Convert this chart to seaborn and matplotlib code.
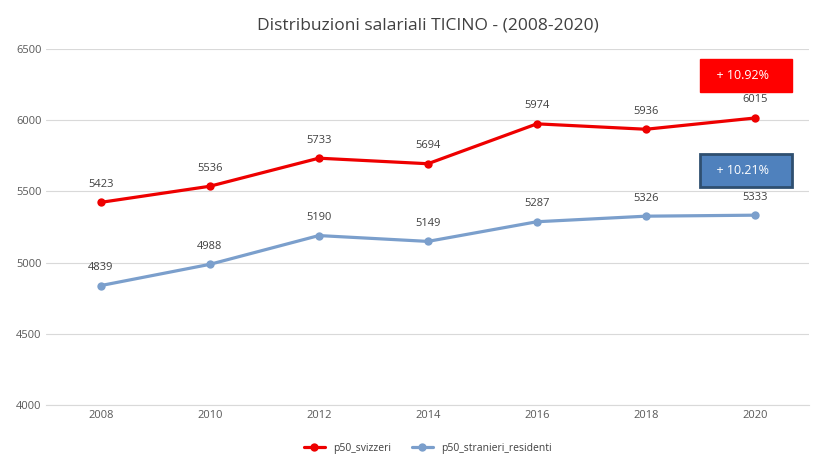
import matplotlib
matplotlib.use('Agg')
import matplotlib.pyplot as plt
import seaborn as sns
import pandas as pd

years = ['2008', '2010', '2012', '2014', '2016', '2018', '2020']
svizzeri = [5423, 5536, 5733, 5694, 5974, 5936, 6015]
stranieri = [4839, 4988, 5190, 5149, 5287, 5326, 5333]

sns.set_style('white')
plt.rcParams['font.family'] = ['Open Sans', 'DejaVu Sans']

df = pd.DataFrame({'anno': years * 2,
                   'valore': svizzeri + stranieri,
                   'serie': ['p50_svizzeri'] * 7 + ['p50_stranieri_residenti'] * 7})

fig = plt.figure(figsize=(8.26, 4.70), dpi=100)
ax = fig.add_axes([0.056, 0.138, 0.924, 0.758])
pal = {'p50_svizzeri': '#ee0000', 'p50_stranieri_residenti': '#7b9fcc'}
sns.lineplot(data=df, x='anno', y='valore', hue='serie', palette=pal, marker='o',
             markersize=6, markeredgewidth=0, linewidth=2.3, ax=ax, sort=False)

for s, vals in [('p50_svizzeri', svizzeri), ('p50_stranieri_residenti', stranieri)]:
    for i, v in enumerate(vals):
        ax.annotate(str(v), (i, v), xytext=(0, 9), textcoords='offset points',
                    ha='center', va='bottom', fontsize=8, color='#404040')

ax.set_xlim(-0.5, 6.5)
ax.set_ylim(4000, 6500)
ax.set_yticks(range(4000, 6501, 500))
ax.yaxis.grid(True, color='#d9d9d9', linewidth=0.8)
for sp in ['top', 'right', 'left']:
    ax.spines[sp].set_visible(False)
ax.spines['bottom'].set_color('#d9d9d9')
ax.tick_params(labelsize=8, colors='#595959', length=0)
ax.set_xlabel('')
ax.set_ylabel('')
ax.set_title('Distribuzioni salariali TICINO - (2008-2020)', fontsize=12.5, color='#404040', pad=14)

ax.text(5.92, 6315, '  + 10.92%    ', ha='center', va='center', color='white', fontsize=9,
        bbox=dict(boxstyle='square,pad=0.8', fc='#ff0000', ec='#ff0000'))
ax.text(5.92, 5650, '  + 10.21%    ', ha='center', va='center', color='white', fontsize=9,
        bbox=dict(boxstyle='square,pad=0.8', fc='#4f81bd', ec='#2f4f70', lw=2))

ax.legend(loc='upper center', bbox_to_anchor=(0.5, -0.08), ncol=2, frameon=False,
          fontsize=7.5, labelcolor='#404040')
fig.savefig('out.png', dpi=100)
